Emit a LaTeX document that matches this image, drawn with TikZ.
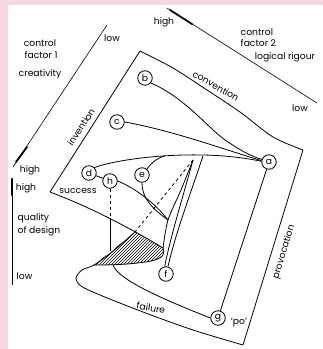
\documentclass[tikz,border=0pt]{standalone}
\usepackage{fontspec}
\setmainfont{Poppins}
\usetikzlibrary{patterns}
\definecolor{pinkbg}{RGB}{246,214,226}
\begin{document}
\begin{tikzpicture}[x=1pt,y=-1pt,line width=0.8pt,font=\fontsize{9.2}{11}\selectfont,
    pt/.style={draw,circle,inner sep=0pt,minimum size=14.5pt},
    heavy/.style={line width=1.8pt,line cap=round}]
    \fill[pinkbg](0,0) rectangle(323,349);
    \fill[white](8,5) rectangle(323,349);
    % control axes
    \draw[line width=0.6pt](13,167)--(107,25);
    \draw[heavy](16,162)--(27,147);
    \draw[line width=0.6pt](167,8)--(317,103);
    \draw[heavy](170,10)--(192,24);
    \draw[line width=0.6pt](12,178)--(12,285);
    \draw[heavy](12,179)--(12,195);
    \node(cfa) at(40,43){control};
    \node(cfb) at(41,55){factor 1};
    \node(crea) at(40,74){creativity};
    \node(lowa) at(112,38){low};
    \node(higha) at(30,170){high};
    \node(highq) at(26,188){high};
    \node[anchor=west](qual) at(14,218){quality};
    \node[anchor=west](ofd) at(14,231){of design};
    \node[anchor=west](lowq) at(13,276){low};
    \node(highb) at(164,22){high};
    \node[anchor=west](cfc) at(237,32){control};
    \node[anchor=west](cfd) at(237,43){factor 2};
    \node(logic) at(285,57){logical rigour};
    \node(lowb) at(300,108){low};
    % surface
    \coordinate(cusp) at(193,160);
    \coordinate(tip) at(94,265);
    \coordinate(fold) at(163,248);
    \coordinate(meet) at(168,220);
    \coordinate(cross) at(135,232);
    \coordinate(ttop) at(140,51);
    \coordinate(tright) at(303,150);
    \coordinate(bcorner) at(243,345);
    \coordinate(scorner) at(50,192);
    \fill[pattern=north east lines](tip)--(cross)--(fold) .. controls(166,256) and (160,260) .. (145,262) .. controls(125,265) and (105,265) .. cycle;
    \draw(scorner)--(ttop);
    \draw plot[smooth] coordinates{(140,51)(173,68)(207,90)(240,112)(273,137)(303,150)};
    \draw(tright)--(bcorner);
    \draw(scorner) .. controls(90,207) and (130,228) .. (fold);
    \draw[dashed](cusp)--(cross);
    \draw plot[smooth] coordinates{(135,232)(112,252)(94,265)(82,270)(76,278)(81,286)(100,295)(143,312)(193,330)(243,345)};
    \draw(fold) .. controls(166,256) and (160,260) .. (145,262) .. controls(125,265) and (105,265) .. (tip);
    \draw plot[smooth] coordinates{(193,160)(181,190)(168,220)(163,248)};
    \node[pt](a) at(269,162){a};
    \node[pt](b) at(145,78){b};
    \node[pt](c) at(117,122){c};
    \node[pt](d) at(89,173){d};
    \node[pt](h) at(110,181){h};
    \node[pt](e) at(142,175){e};
    \node[pt](f) at(166,274){f};
    \node[pt](g) at(218,318){g};
    \draw(cusp) .. controls(182,200) and (171,235) .. (f.100);
    \draw(203,156) .. controls(190,195) and (175,235) .. (f.75);
    \draw(d.45) .. controls(120,158) and (200,148) .. (a.175);
    \draw(e.50) .. controls(152,162) and (157,158) .. (165,156);
    \draw(e.south) .. controls(142,197) and (150,207) .. (meet);
    \draw(h.east) .. controls(135,188) and (155,203) .. (meet);
    \draw(d)--(h);
    \draw[dashed](h.south)--(110,219);
    \draw(110,219)--(110,251);
    \draw(b.-40) .. controls(185,98) and (205,125) .. (225,140) .. controls(240,150) and (250,156) .. (a.160);
    \draw(c.east) .. controls(170,130) and (220,148) .. (a.170);
    \draw(113,265) .. controls(118,280) and (165,300) .. (g.west);
    \draw(g)--(a);
    \node[rotate=-30](conv) at(216,86){convention};
    \node[rotate=57](inv) at(81,127){invention};
    \node(succ) at(78,191){success};
    \node[rotate=-10](fail) at(151,308){failure};
    \node[rotate=73](prov) at(284,252){provocation};
    \node(po) at(239,322){`po'};
\end{tikzpicture}
\end{document}
